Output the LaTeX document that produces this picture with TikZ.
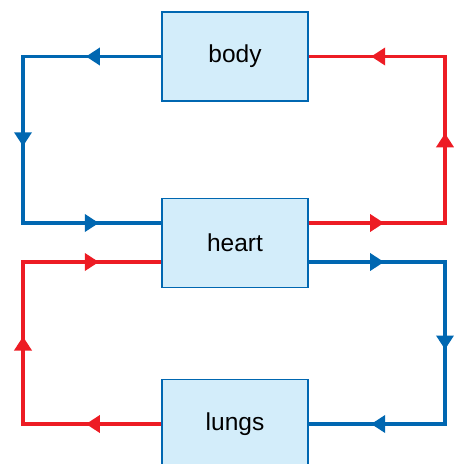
\documentclass[tikz,border=0pt]{standalone}
\usepackage{fontspec}
\setmainfont{Liberation Sans}
\usetikzlibrary{arrows.meta,decorations.markings}

\definecolor{flowblue}{RGB}{0,103,177}
\definecolor{flowred}{RGB}{237,28,36}
\definecolor{boxfill}{RGB}{211,237,250}

\tikzset{
    tip/.style={xshift=6.5pt},
    flowtip/.tip={Triangle[length=14pt, width=17pt]}
}

\begin{document}
\begin{tikzpicture}[
    x=1pt, y=-1pt,
    box/.style={draw=flowblue, line width=1.2pt, fill=boxfill, minimum width=146pt, minimum height=89pt, inner sep=0pt, font=\fontsize{24.5}{28}\selectfont},
    flow/.style={line width=3.7pt, postaction={decorate}, decoration={markings,
        mark=at position 69pt with {\arrow[tip]{flowtip}},
        mark=at position 0.5 with {\arrow[tip]{flowtip}},
        mark=at position -69pt with {\arrow[tip]{flowtip}}}},
    bluearr/.style={flow, flowblue},
    redarr/.style={flow, flowred}
]
\useasboundingbox (0,0) rectangle (454,464);

\node[box] (body) at (235,56.5) {body};
\node[box] (heart) at (235,243) {heart};
\node[box] (lungs) at (235,424) {lungs};

% corners beside the heart
\coordinate (hl1) at (23,223);
\coordinate (hr1) at (445,223);
\coordinate (hl2) at (23,262);
\coordinate (hr2) at (445,262);

% body <-> heart
\draw[bluearr] (body.west) -| (hl1) -- (hl1 -| heart.west);
\draw[redarr] (hr1 -| heart.east) -- (hr1) |- (body.east);
% heart <-> lungs
\draw[bluearr] (hr2 -| heart.east) -- (hr2) |- (lungs.east);
\draw[redarr] (lungs.west) -| (hl2) -- (hl2 -| heart.west);
\end{tikzpicture}
\end{document}
